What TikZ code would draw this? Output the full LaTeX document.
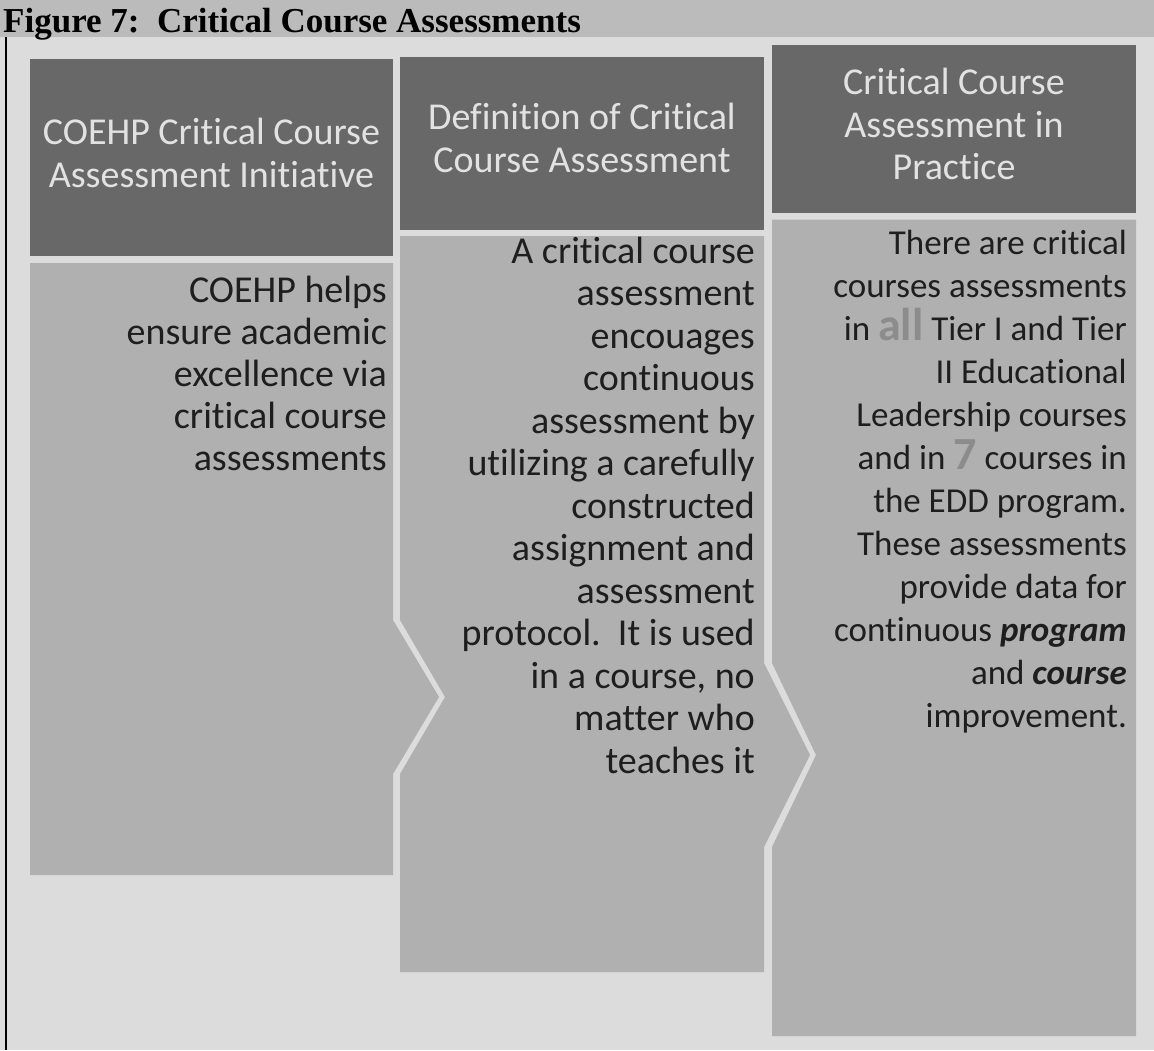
\documentclass[tikz,border=0pt]{standalone}
\usepackage{fontspec}
\setmainfont{Carlito}[Ligatures=NoCommon]
\newfontfamily\serifbold{Liberation Serif}
\usepackage{tikz}
\definecolor{bgcol}{HTML}{DCDCDC}
\definecolor{barcol}{HTML}{BBBBBB}
\definecolor{headcol}{HTML}{686868}
\definecolor{bodycol}{HTML}{B0B0B0}
\definecolor{headtxt}{HTML}{E2E2E2}
\definecolor{bodytxt}{HTML}{1E1E1E}
\definecolor{hilite}{HTML}{8C8C8C}
\newcommand{\bigword}[1]{{\fontsize{46}{43}\selectfont\bfseries\color{hilite}#1}}

\begin{document}
\begin{tikzpicture}[x=1pt,y=-1pt]
            \tikzstyle{headtext}=[font=\fontsize{38}{42.5}\selectfont, text=headtxt, align=center, inner sep=0pt]
            \tikzstyle{bodytext}=[font=\fontsize{38}{42.5}\selectfont, text=bodytxt, align=right, inner sep=0pt, anchor=north east]
            \useasboundingbox (0,0) rectangle (1154,1050);
            \fill[bgcol] (0,0) rectangle (1154,1050);
            \fill[barcol] (0,0) rectangle (1154,37);
            \draw[line width=1.5pt] (6,37) -- (6,1050);
            \node[anchor=base west, inner sep=0pt, font=\serifbold\fontsize{35}{40}\selectfont\bfseries] (title) at (3,32.5) {Figure 7:\ \ Critical Course Assessments};
            \fill[headcol] (30,59) rectangle (393,256);
            \fill[headcol] (400,57) rectangle (764,229.5);
            \fill[headcol] (772,44.5) rectangle (1136,212.5);
            \fill[bodycol] (30,263) -- (393,263) -- (393,620) -- (439,697) -- (393,774) -- (393,875) -- (30,875) -- cycle;
            \fill[bodycol] (400,236) -- (764,236) -- (764,663) -- (810,755) -- (764,847) -- (764,972) -- (400,972) -- (400,774) -- (445,697) -- (400,620) -- cycle;
            \fill[bodycol] (772,219.5) -- (1136,219.5) -- (1136,1036) -- (772,1036) -- (772,847) -- (816,755) -- (772,663) -- cycle;
            \node[headtext] (head1) at (211.5,152.7) {COEHP Critical Course\\Assessment Initiative};
            \node[headtext] (head2) at (582,137.7) {Definition of Critical\\Course Assessment};
            \node[headtext] (head3) at (954,124) {Critical Course\\Assessment in\\Practice};
            \node[bodytext, font=\fontsize{38}{42}\selectfont] (body1) at (387,276) {COEHP helps\\ensure academic\\excellence via\\critical course\\assessments};
            \node[bodytext] (body2) at (755,236.5) {A critical course\\assessment\\encouages\\continuous\\assessment by\\utilizing a carefully\\constructed\\assignment and\\assessment\\protocol.\ \ It is used\\in a course, no\\matter who\\teaches it};
            \node[bodytext, font=\fontsize{35}{43}\selectfont] (body3) at (1127,229.5) {There are critical\\courses assessments\\in \bigword{all} Tier I and Tier\\II Educational\\Leadership courses\\and in \bigword{7} courses in\\the EDD program.\\These assessments\\provide data for\\continuous \textbf{\textit{program}}\\and \textbf{\textit{course}}\\improvement.};
        \end{tikzpicture}
\end{document}
